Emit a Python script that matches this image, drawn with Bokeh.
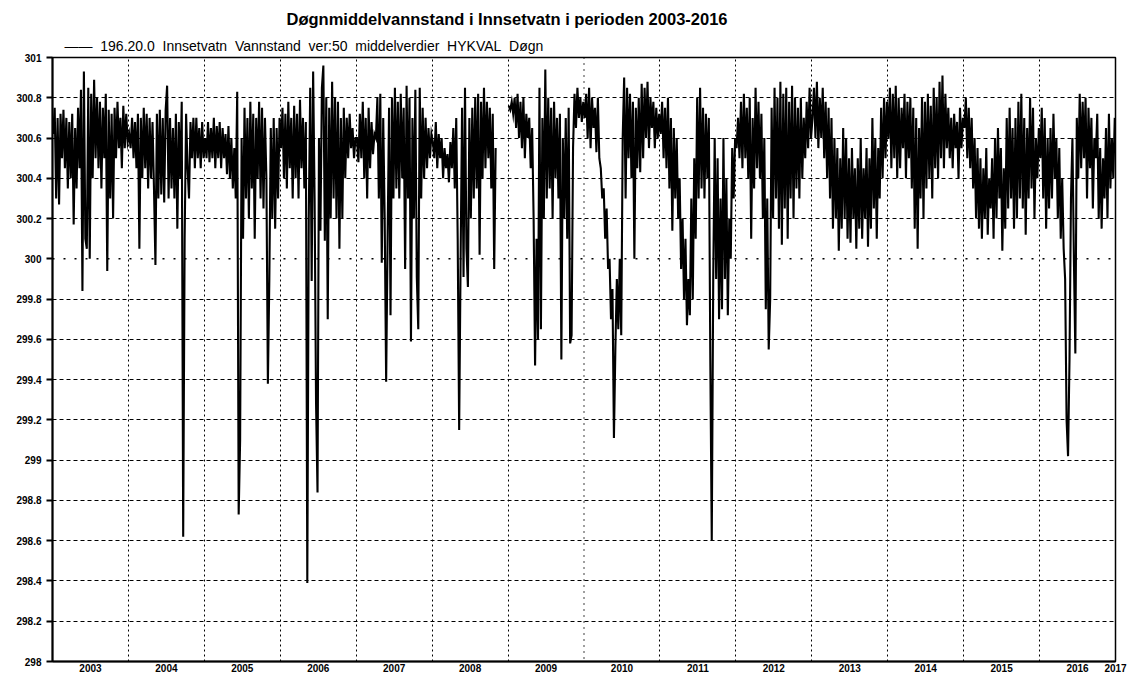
import math
from bokeh.plotting import figure
from bokeh.models import (Range1d, FixedTicker, CustomJSTickFormatter, Title, Span)
from bokeh.embed import file_html
from bokeh.resources import INLINE

NAN = float("nan")

title_text = "Døgnmiddelvannstand i Innsetvatn i perioden 2003-2016"
series_label = ("\u2014\u2014\u00a0 196.20.0\u00a0 Innsetvatn\u00a0 Vannstand\u00a0 ver:50\u00a0 "
                "middelverdier\u00a0 HYKVAL\u00a0 Døgn")

years = list(range(2003, 2017))
y_ticks = [298.2, 298.4, 298.6, 298.8, 299.0, 299.2, 299.4, 299.6, 299.8,
           300.2, 300.4, 300.6, 300.8]
y_label_ticks = [298.0, 298.2, 298.4, 298.6, 298.8, 299.0, 299.2, 299.4, 299.6,
                 299.8, 300.0, 300.2, 300.4, 300.6, 300.8, 301.0]

# weekly readings of the daily mean water level (m), one list per year
lvl_2003 = [300.62, 300.75, 300.30, 300.70, 300.27, 300.72, 300.50, 300.74, 300.45, 300.70,
            300.35, 300.68, 300.40, 300.72, 300.17, 300.65, 300.35, 300.75, 300.45, 300.84,
            299.84, 300.93, 300.10, 300.05, 300.85, 300.00, 300.82, 300.40, 300.89, 300.50,
            300.80, 300.45, 300.78, 300.35, 300.75, 300.50, 300.82, 299.94, 300.74, 300.30,
            300.72, 300.20, 300.75, 300.50, 300.78, 300.55, 300.70, 300.45, 300.76, 300.55,
            300.72, 300.58]
lvl_2004 = [300.62, 300.55, 300.70, 300.50, 300.68, 300.45, 300.72, 300.05, 300.70, 300.40,
            300.75, 300.45, 300.72, 300.35, 300.70, 300.40, 300.68, 300.35, 299.97, 300.72,
            300.30, 300.74, 300.32, 300.70, 300.28, 300.74, 300.86, 300.30, 300.70, 300.35,
            300.65, 300.30, 300.72, 300.15, 300.68, 300.40, 300.78, 298.62, 300.10, 300.72,
            300.45, 300.30, 300.68, 300.50, 300.70, 300.45, 300.70, 300.50, 300.65, 300.45,
            300.68, 300.50]
lvl_2005 = [300.60, 300.50, 300.68, 300.48, 300.65, 300.50, 300.70, 300.45, 300.66, 300.50,
            300.68, 300.45, 300.65, 300.50, 300.62, 300.42, 300.66, 300.40, 300.60, 300.35,
            300.55, 300.30, 300.83, 298.73, 299.10, 300.60, 300.10, 300.75, 300.30, 300.70,
            300.20, 300.78, 300.35, 300.72, 300.10, 300.70, 300.40, 300.78, 300.30, 300.75,
            300.25, 300.70, 300.40, 299.38, 299.90, 300.65, 300.20, 300.70, 300.15, 300.65,
            300.30, 300.70]
lvl_2006 = [300.55, 300.75, 300.40, 300.72, 300.35, 300.78, 300.45, 300.70, 300.30, 300.76,
            300.40, 300.72, 300.30, 300.79, 300.45, 300.70, 300.35, 300.68, 298.39, 300.20,
            300.85, 299.89, 300.93, 300.30, 299.28, 298.84, 300.60, 300.14, 300.85, 300.96,
            300.09, 300.80, 299.70, 300.75, 300.20, 300.88, 300.30, 300.80, 300.20, 300.78,
            300.05, 300.70, 300.20, 300.75, 300.40, 300.70, 300.50, 300.72, 300.55, 300.65,
            300.50, 300.60]
lvl_2007 = [300.60, 300.48, 300.72, 300.50, 300.78, 300.40, 300.70, 300.30, 300.75, 300.45,
            300.68, 300.52, 300.62, 300.60, 300.80, 300.30, 300.82, 299.98, 300.70, 300.20,
            299.39, 300.10, 300.75, 299.72, 300.80, 300.30, 300.85, 300.35, 300.78, 300.30,
            300.82, 300.40, 300.75, 299.95, 300.86, 300.30, 300.80, 299.59, 300.70, 300.20,
            300.84, 299.91, 299.65, 300.85, 300.30, 300.75, 300.40, 300.70, 300.45, 300.65,
            300.50, 300.62]
lvl_2008 = [300.58, 300.50, 300.68, 300.45, 300.62, 300.50, 300.60, 300.40, 300.55, 300.45,
            300.52, 300.38, 300.58, 300.45, 300.65, 300.35, 300.70, 300.10, 299.15, 300.00,
            300.75, 299.91, 300.85, 300.05, 299.86, 300.70, 300.20, 300.75, 300.30, 300.80,
            300.35, 300.82, 300.02, 300.78, 300.40, 300.85, 300.45, 300.78, 300.50, 300.75,
            300.35, 300.72, 299.95, 300.55, NAN, NAN, NAN, NAN, NAN, NAN,
            NAN, NAN]
lvl_2009 = [300.76, 300.74, 300.78, 300.72, 300.80, 300.65, 300.82, 300.60, 300.78, 300.55,
            300.80, 300.50, 300.72, 300.60, 300.70, 300.45, 300.65, 300.20, 299.47, 300.10,
            299.60, 300.85, 299.65, 300.70, 300.20, 300.94, 300.30, 300.80, 300.35, 300.75,
            300.20, 300.78, 300.40, 300.70, 300.30, 300.72, 299.50, 300.60, 300.20, 300.70,
            300.10, 300.75, 299.58, 299.62, 300.55, 300.82, 300.65, 300.85, 300.70, 300.80,
            300.68, 300.78]
lvl_2010 = [300.70, 300.82, 300.60, 300.85, 300.55, 300.80, 300.65, 300.75, 300.53, 300.80,
            300.50, 300.45, 300.30, 300.35, 300.10, 300.25, 299.95, 300.00, 299.70, 299.85,
            299.11, 299.56, 299.90, 299.65, 300.00, 299.62, 300.60, 300.90, 300.30, 300.85,
            300.50, 300.82, 300.40, 300.78, 300.00, 300.75, 300.45, 300.80, 300.43, 300.87,
            300.50, 300.85, 300.60, 300.88, 300.55, 300.80, 300.65, 300.78, 300.55, 300.75,
            300.60, 300.72]
lvl_2011 = [300.62, 300.78, 300.50, 300.75, 300.45, 300.80, 300.35, 300.70, 300.14, 300.65,
            300.30, 300.60, 300.20, 300.40, 299.95, 300.20, 299.80, 300.10, 299.67, 299.90,
            299.72, 300.30, 299.80, 300.50, 300.10, 300.80, 300.30, 300.85, 300.35, 300.75,
            300.30, 300.72, 300.40, 300.70, 299.50, 298.60, 299.90, 300.60, 299.90, 300.50,
            299.70, 300.30, 299.75, 300.60, 299.90, 300.40, 299.72, 300.20, 300.00, 300.55,
            300.30, 300.60]
lvl_2012 = [300.55, 300.70, 300.50, 300.78, 300.45, 300.82, 300.50, 300.75, 300.40, 300.80,
            300.10, 300.70, 300.35, 300.85, 300.45, 300.78, 300.40, 300.72, 300.20, 300.60,
            299.75, 300.30, 299.55, 299.80, 300.75, 300.20, 300.85, 300.30, 300.80, 300.15,
            300.88, 300.07, 300.82, 300.25, 300.85, 300.10, 300.78, 300.30, 300.86, 300.20,
            300.80, 300.35, 300.75, 300.30, 300.80, 300.40, 300.70, 300.50, 300.78, 300.55,
            300.85, 300.60]
lvl_2013 = [300.70, 300.85, 300.60, 300.88, 300.55, 300.80, 300.60, 300.85, 300.50, 300.78,
            300.40, 300.75, 300.30, 300.70, 300.15, 300.60, 300.20, 300.55, 300.04, 300.50,
            300.15, 300.65, 300.20, 300.60, 300.10, 300.50, 300.08, 300.55, 300.20, 300.45,
            300.05, 300.50, 300.15, 300.60, 300.10, 300.45, 300.20, 300.55, 300.06, 300.50,
            300.15, 300.70, 300.25, 300.60, 300.10, 300.55, 300.30, 300.75, 300.40, 300.80,
            300.50, 300.78]
lvl_2014 = [300.60, 300.85, 300.45, 300.82, 300.50, 300.86, 300.40, 300.80, 300.45, 300.75,
            300.55, 300.82, 300.40, 300.78, 300.50, 300.80, 300.35, 300.75, 300.15, 300.70,
            300.05, 300.65, 300.30, 300.80, 300.20, 300.78, 300.35, 300.82, 300.40, 300.76,
            300.30, 300.85, 300.45, 300.80, 300.40, 300.88, 300.50, 300.91, 300.45, 300.82,
            300.55, 300.75, 300.50, 300.70, 300.45, 300.72, 300.55, 300.68, 300.40, 300.75,
            300.55, 300.70]
lvl_2015 = [300.65, 300.80, 300.50, 300.75, 300.45, 300.70, 300.35, 300.60, 300.20, 300.55,
            300.15, 300.50, 300.10, 300.45, 300.20, 300.55, 300.12, 300.40, 300.25, 300.50,
            300.10, 300.60, 300.20, 300.65, 300.30, 300.55, 300.04, 300.45, 300.15, 300.70,
            300.25, 300.75, 300.30, 300.65, 300.15, 300.70, 300.20, 300.78, 300.30, 300.82,
            300.25, 300.70, 300.12, 300.65, 300.30, 300.80, 300.35, 300.75, 300.20, 300.60,
            300.40, 300.65]
lvl_2016 = [300.50, 300.75, 300.30, 300.70, 300.15, 300.60, 300.25, 300.65, 300.30, 300.72,
            300.40, 300.60, 300.20, 300.55, 300.10, 300.40, 300.05, 299.90, 299.20, 299.02,
            299.50, 300.30, 300.60, 300.00, 299.53, 300.70, 300.40, 300.82, 300.45, 300.78,
            300.50, 300.80, 300.30, 300.75, 300.45, 300.70, 300.25, 300.60, 300.50, 300.72,
            300.20, 300.55, 300.15, 300.50, 300.30, 300.65, 300.20, 300.72, 300.35, 300.60,
            300.40, 300.70]

series = [lvl_2003, lvl_2004, lvl_2005, lvl_2006, lvl_2007, lvl_2008, lvl_2009,
          lvl_2010, lvl_2011, lvl_2012, lvl_2013, lvl_2014, lvl_2015, lvl_2016]

xs, ys = [], []
for yr, vals in zip(years, series):
    n = len(vals)
    for k, v in enumerate(vals):
        xs.append(yr + (k + 0.5) / n)
        ys.append(v)

FONT = "Liberation Sans"

p = figure(width=1132, height=674,
           x_range=Range1d(2003, 2017), y_range=Range1d(298, 301),
           output_backend="svg", toolbar_location=None, title_location=None,
           min_border_left=52, min_border_right=17, min_border_top=57,
           min_border_bottom=10)

r = p.line(xs, ys, line_color="black", line_width=2.1, line_join="miter")

# legend line (closest to the frame), then the main title above it
p.add_layout(Title(text=series_label, align="left", offset=12, standoff=7,
                   text_font=FONT, text_font_size="14px", text_font_style="normal",
                   text_color="black"), "above")
p.add_layout(Title(text=title_text, align="left", offset=234, standoff=10,
                   text_font=FONT, text_font_size="16.5px", text_font_style="bold",
                   text_color="black"), "above")

# axes
p.xaxis.ticker = FixedTicker(ticks=[y + 0.5 for y in years] + [2017.0])
p.xaxis.formatter = CustomJSTickFormatter(
    code="return tick >= 2017 ? '2017' : String(Math.floor(tick));")
p.yaxis.ticker = FixedTicker(ticks=y_label_ticks)
p.yaxis.formatter = CustomJSTickFormatter(
    code="return String(Number(tick.toFixed(1)));")

for ax in (p.xaxis, p.yaxis):
    ax.axis_line_width = 2
    ax.axis_line_color = "black"
    ax.major_label_text_font = FONT
    ax.major_label_text_font_size = "10px"
    ax.major_label_text_font_style = "bold"
    ax.major_label_text_color = "black"
    ax.minor_tick_line_color = None
    ax.major_tick_in = 0
    ax.axis_label_standoff = 0

p.xaxis.major_tick_line_color = None
p.xaxis.major_tick_out = 0
p.xaxis.major_label_standoff = 2
p.yaxis.major_tick_out = 6
p.yaxis.major_tick_line_width = 2
p.yaxis.major_tick_line_color = "black"
p.yaxis.major_label_standoff = 5

# grid
p.xgrid.ticker = FixedTicker(ticks=[y for y in years[1:] if y != 2010])
p.xgrid.grid_line_color = "black"
p.xgrid.grid_line_dash = "2 3"
p.xgrid.grid_line_width = 1
p.ygrid.ticker = FixedTicker(ticks=y_ticks)
p.ygrid.grid_line_color = "black"
p.ygrid.grid_line_dash = "4 3"
p.ygrid.grid_line_width = 1

p.add_layout(Span(location=300.0, dimension="width", line_color="black",
                  line_dash="2 9", line_width=1.5))
p.add_layout(Span(location=2010.0, dimension="height", line_color="black",
                  line_dash="1 5", line_width=1.5))

p.outline_line_color = "black"
p.outline_line_width = 1.5
p.background_fill_color = "white"
p.border_fill_color = "white"

open("out.html", "w").write(file_html(p, INLINE))
